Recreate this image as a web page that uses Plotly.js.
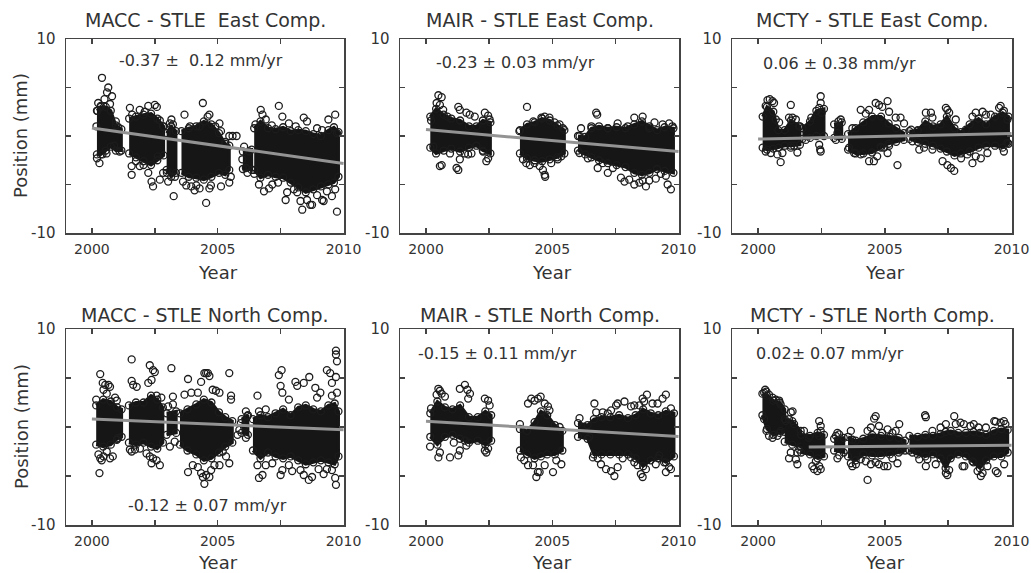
<!DOCTYPE html>
<html><head><meta charset="utf-8">
<script src="https://cdn.plot.ly/plotly-3.0.1.min.js"></script>
<style>html,body{margin:0;padding:0;background:#fff}#chart{width:1031px;height:573px}</style>
</head><body><div id="chart"></div>
<script>
// ---------------- DATA ----------------
const panelTitles = ['MACC - STLE\u00a0 East Comp.', 'MAIR - STLE East Comp.', 'MCTY - STLE East Comp.',
                     'MACC - STLE North Comp.', 'MAIR - STLE North Comp.', 'MCTY - STLE North Comp.'];
const rateLabels = ['-0.37 \u00b1\u00a0 0.12 mm/yr', '-0.23 \u00b1 0.03 mm/yr', '0.06 \u00b1 0.38 mm/yr',
                    '-0.12 \u00b1 0.07 mm/yr', '-0.15 \u00b1 0.11 mm/yr', '0.02\u00b1 0.07 mm/yr'];
const xTickVals = [2000, 2002.5, 2005, 2007.5, 2010];
const xTickText = ['2000', '', '2005', '', '2010'];
const yTickVals = [-10, -5, 0, 5, 10];
const yTickText = ['-10', '', '', '', '10'];

// Trend lines [years], [mm]
const maccEastTrend = [[2000, 2010], [0.82, -2.83]];
const mairEastTrend = [[2000, 2010], [0.66, -1.60]];
const mctyEastTrend = [[2000, 2010], [-0.31, 0.25]];
const maccNorthTrend = [[2000, 2010], [0.82, -0.28]];
const mairNorthTrend = [[2000, 2010], [0.58, -0.96]];
const mctyNorthTrend = [[2002, 2010], [-2.05, -1.85]];

// Dense cores of the point clouds: per cluster [year, upper mm, lower mm]
const maccEastCore = [
 [[2000.20,2.6,-1.9],[2000.35,3.0,-1.9],[2000.55,3.0,-1.5],[2000.75,2.6,-1.1],[2000.95,1.1,-1.5],[2001.17,0.7,-1.5]],
 [[2001.48,1.8,-1.8],[2001.75,2.0,-2.2],[2002.05,2.2,-2.6],[2002.35,2.3,-3.0],[2002.60,1.8,-2.5],[2002.85,1.0,-2.0]],
 [[2002.97,0.3,-3.5],[2003.15,1.0,-4.2],[2003.34,0.5,-3.8]],
 [[2003.56,0.5,-3.8],[2003.85,0.8,-4.2],[2004.15,1.0,-4.3],[2004.45,1.5,-4.5],[2004.75,1.2,-4.2],[2005.05,0.3,-3.8],[2005.30,-0.8,-4.0],[2005.46,-1.0,-3.5]],
 [[2006.00,-1.6,-3.4],[2006.35,-1.4,-3.5]],
 [[2006.45,0.8,-3.5],[2006.70,1.5,-4.3],[2007.00,0.8,-4.0],[2007.30,0.7,-4.2],[2007.60,0.9,-4.3],[2007.90,0.5,-4.8],[2008.20,0.6,-5.3],[2008.50,0.5,-5.8],[2008.80,0.2,-5.5],[2009.10,0.0,-5.2],[2009.40,0.6,-5.0],[2009.62,0.9,-4.8],[2009.80,0.4,-4.2]]
];
const mairEastCore = [
 [[2000.17,2.0,-1.2],[2000.40,2.8,-1.8],[2000.70,2.2,-1.5],[2001.00,1.8,-1.3],[2001.35,1.6,-1.6],[2001.70,1.0,-1.2],[2002.00,1.0,-1.0],[2002.25,1.6,-1.5],[2002.55,1.4,-1.8]],
 [[2003.72,0.6,-1.8],[2004.00,1.2,-2.3],[2004.30,1.4,-2.5],[2004.60,1.8,-2.6],[2004.90,1.6,-2.4],[2005.20,1.1,-2.2],[2005.48,0.6,-1.8]],
 [[2006.02,0.0,-1.5],[2006.30,-0.1,-1.9],[2006.55,0.8,-2.2],[2006.85,1.0,-2.5],[2007.20,0.8,-2.8],[2007.55,0.9,-3.0],[2007.90,0.8,-3.2],[2008.25,1.2,-3.8],[2008.55,1.5,-4.0],[2008.85,1.0,-3.8],[2009.15,0.6,-3.4],[2009.45,0.9,-3.6],[2009.80,0.8,-3.8]]
];
const mctyEastCore = [
 [[2000.18,2.0,-1.2],[2000.35,3.0,-1.4],[2000.60,2.5,-1.3],[2000.80,0.6,-1.2],[2001.05,0.6,-1.0],[2001.30,1.6,-1.0],[2001.65,1.0,-0.9]],
 [[2001.75,0.8,-0.3],[2002.05,1.5,-0.2],[2002.30,2.6,0.0],[2002.60,2.8,0.0]],
 [[2003.00,1.2,-0.2],[2003.30,1.4,-0.3]],
 [[2003.55,0.2,-1.4],[2003.85,0.8,-1.8],[2004.15,1.4,-1.8],[2004.50,2.0,-1.7],[2004.85,2.0,-1.2],[2005.15,1.3,-0.8],[2005.45,0.8,-0.6],[2005.75,0.3,-0.4]],
 [[2005.97,0.5,-0.3],[2006.30,0.6,-0.6],[2006.60,1.5,-0.8],[2006.90,1.0,-1.0],[2007.20,1.2,-1.3],[2007.45,2.0,-1.6],[2007.75,0.8,-2.0],[2008.00,0.4,-1.8],[2008.35,1.2,-1.6],[2008.70,1.8,-1.2],[2009.00,1.2,-1.0],[2009.35,2.0,-1.0],[2009.65,2.4,-1.2],[2009.88,2.0,-0.8]]
];
const maccNorthCore = [
 [[2000.17,2.2,-1.8],[2000.45,2.8,-2.0],[2000.75,2.6,-1.8],[2001.00,2.0,-1.2],[2001.18,1.8,-1.0]],
 [[2001.47,2.2,-1.6],[2001.75,2.5,-1.8],[2002.05,2.5,-1.6],[2002.35,3.2,-2.0],[2002.60,2.8,-2.2],[2002.82,2.0,-1.6]],
 [[2002.97,1.4,-0.8],[2003.35,1.6,-0.6]],
 [[2003.50,1.4,-1.8],[2003.80,1.8,-2.4],[2004.15,2.3,-2.8],[2004.45,2.8,-3.4],[2004.75,2.5,-3.2],[2005.05,1.5,-2.6],[2005.30,1.0,-2.0],[2005.58,0.6,-1.6]],
 [[2005.95,0.8,-0.6],[2006.20,1.2,-0.8]],
 [[2006.40,0.8,-2.4],[2006.70,1.2,-3.2],[2007.00,1.0,-2.6],[2007.30,1.4,-3.0],[2007.60,1.8,-3.2],[2007.90,1.2,-3.0],[2008.20,2.0,-3.4],[2008.50,2.2,-3.8],[2008.80,1.8,-3.6],[2009.10,1.6,-3.4],[2009.40,2.2,-3.6],[2009.65,2.4,-3.8],[2009.80,1.6,-3.0]]
];
const mairNorthCore = [
 [[2000.17,1.4,-1.0],[2000.45,2.6,-1.8],[2000.75,2.0,-1.0],[2001.05,1.8,-0.8],[2001.35,2.2,-1.2],[2001.70,1.0,-1.6],[2002.05,1.0,-1.4],[2002.35,1.6,-1.8],[2002.58,1.2,-1.4]],
 [[2003.72,-0.2,-2.4],[2004.00,-0.4,-2.8],[2004.30,0.5,-3.2],[2004.55,1.6,-3.0],[2004.80,1.2,-2.8],[2005.10,0.2,-2.8],[2005.40,-0.4,-2.4]],
 [[2006.02,0.4,-1.0],[2006.40,0.2,-1.2],[2006.65,0.8,-2.8],[2006.95,1.0,-2.8],[2007.30,1.0,-2.8],[2007.65,1.2,-2.8],[2008.00,0.9,-2.8],[2008.30,1.2,-3.2],[2008.60,1.8,-4.0],[2008.90,1.4,-3.4],[2009.20,1.2,-3.2],[2009.50,1.6,-3.6],[2009.82,1.4,-3.0]]
];
const mctyNorthCore = [
 [[2000.17,3.4,1.2],[2000.35,3.2,-0.2],[2000.60,2.7,-0.8],[2000.85,2.5,-0.6],[2001.05,1.8,-0.5]],
 [[2001.05,0.8,-1.5],[2001.35,0.6,-1.8],[2001.68,-0.4,-2.0]],
 [[2001.70,-0.8,-2.6],[2002.05,-0.9,-2.8],[2002.35,-0.6,-3.2],[2002.60,-0.8,-3.0]],
 [[2003.00,-1.2,-2.4],[2003.38,-1.1,-2.6]],
 [[2003.55,-1.0,-3.0],[2003.85,-1.4,-3.4],[2004.15,-1.2,-2.8],[2004.50,-0.8,-2.9],[2004.85,-0.9,-2.9],[2005.20,-1.0,-2.8],[2005.55,-1.1,-2.6],[2005.80,-1.4,-2.4]],
 [[2005.97,-0.9,-2.4],[2006.30,-1.0,-2.8],[2006.60,-0.8,-3.0],[2006.90,-0.9,-2.8],[2007.20,-0.7,-3.2],[2007.40,-0.5,-4.2],[2007.60,-0.4,-3.2],[2007.90,-0.6,-2.8],[2008.20,-0.6,-3.0],[2008.50,-0.5,-3.6],[2008.75,-0.6,-4.2],[2009.00,-0.8,-3.4],[2009.30,-0.4,-3.0],[2009.60,-0.2,-3.0],[2009.85,-0.3,-2.6]]
];

// Individual (scattered) daily positions [year, mm]
const maccEastPts = [
 [2000.40,6.0],[2000.65,5.0],[2000.60,4.5],[2000.80,4.1],[2000.25,3.4],[2000.50,3.8],[2000.72,3.3],[2000.35,3.1],[2000.20,-2.3],[2000.30,-2.8],[2000.42,-1.9],[2000.88,-1.0],[2001.10,-1.6],[2001.05,0.9],[2000.95,1.5],[2000.22,2.6],[2000.58,-1.8],[2000.18,1.0],
 [2001.51,2.9],[2001.90,2.7],[2002.24,3.1],[2002.50,3.2],[2002.58,3.0],[2002.10,2.5],[2001.60,2.2],[2002.70,1.6],[2002.82,1.0],[2001.58,-3.1],[2001.58,-4.0],[2001.90,-3.1],[2002.24,-3.8],[2002.37,-4.7],[2002.43,-5.2],[2002.62,-2.1],[2002.70,-4.5],[2002.83,-3.8],[2001.75,-2.6],[2002.05,-3.0],
 [2003.16,1.7],[2003.10,1.3],[2003.22,1.2],[2003.03,-4.7],[2003.25,-6.2],[2002.98,-3.8],[2003.30,-4.2],
 [2003.68,2.2],[2004.41,3.4],[2004.28,1.0],[2004.60,2.0],[2004.67,2.2],[2005.07,1.3],[2005.13,0.5],[2005.46,0.0],[2005.59,0.0],[2005.75,0.0],[2003.62,-4.7],[2003.75,-5.1],[2003.95,-5.2],[2004.08,-5.6],[2004.15,-5.1],[2004.28,-5.4],[2004.54,-6.9],[2004.67,-5.4],[2004.73,-5.1],[2005.13,-5.2],[2005.46,-4.8],[2005.52,-4.2],[2003.90,1.0],[2004.90,1.0],[2005.30,-0.6],
 [2006.05,-1.1],[2006.18,-3.8],[2006.25,-1.6],[2006.12,-3.3],[2005.98,-2.4],
 [2006.71,2.7],[2006.78,2.2],[2006.91,1.7],[2007.43,3.1],[2007.57,2.0],[2007.83,1.3],[2008.42,1.9],[2008.55,1.5],[2008.95,0.8],[2009.40,1.7],[2009.67,2.2],[2009.74,0.3],[2006.50,1.2],[2007.15,1.1],[2008.10,1.0],[2009.15,0.6],
 [2006.64,-5.0],[2006.84,-5.7],[2007.04,-5.4],[2007.17,-5.0],[2007.70,-6.6],[2007.76,-5.8],[2008.03,-5.5],[2008.16,-5.8],[2008.29,-6.7],[2008.36,-7.6],[2008.55,-6.6],[2008.68,-7.1],[2008.75,-7.1],[2008.95,-6.1],[2009.15,-6.6],[2009.21,-6.7],[2009.34,-5.7],[2009.54,-6.2],[2009.74,-7.8],[2009.67,-5.5],[2007.40,-4.8],[2006.45,-3.9]
];
const mairEastPts = [
 [2000.49,4.2],[2000.62,4.0],[2000.42,3.4],[2000.55,3.2],[2000.68,2.7],[2001.28,3.0],[2001.34,2.7],[2001.60,2.4],[2001.73,2.2],[2001.93,2.0],[2002.33,2.4],[2002.46,2.1],[2002.52,1.7],[2000.29,-1.1],[2000.62,-3.0],[2000.55,-3.1],[2001.21,-3.3],[2001.28,-3.5],[2001.34,-2.4],[2001.54,-1.8],[2001.67,-1.9],[2001.80,-1.8],[2002.39,-2.6],[2002.46,-2.3],[2002.26,-1.6],[2000.20,1.6],[2000.95,-1.8],[2000.85,2.0],
 [2004.00,3.0],[2004.57,1.9],[2004.70,2.0],[2004.89,1.9],[2005.09,1.4],[2005.29,1.2],[2005.42,0.8],[2003.70,0.5],[2003.84,-2.4],[2003.97,-2.8],[2004.11,-3.0],[2004.30,-2.8],[2004.50,-3.1],[2004.63,-3.5],[2004.70,-4.0],[2004.72,-4.2],[2004.96,-2.8],[2005.22,-2.4],[2005.36,-2.1],[2004.25,1.5],
 [2006.14,0.8],[2006.08,0.0],[2006.74,2.4],[2006.78,2.2],[2007.20,0.8],[2007.59,1.3],[2007.99,1.0],[2008.25,1.9],[2008.58,2.0],[2008.84,0.8],[2009.37,1.2],[2009.63,1.3],[2009.76,1.0],[2006.08,-1.75],[2006.41,-2.3],[2006.80,-3.3],[2007.00,-2.8],[2007.20,-3.8],[2007.40,-3.3],[2007.72,-4.3],[2007.86,-4.7],[2008.05,-4.5],[2008.25,-5.0],[2008.45,-4.8],[2008.58,-4.6],[2008.71,-5.2],[2008.84,-4.6],[2009.10,-4.4],[2009.30,-3.9],[2009.50,-4.1],[2009.70,-5.5],[2009.57,-5.0],[2006.55,1.0],[2009.05,1.4]
];
const mctyEastPts = [
 [2000.37,3.7],[2000.46,3.8],[2000.57,3.6],[2000.63,3.4],[2000.30,3.1],[2000.70,1.7],[2000.83,1.4],[2001.29,3.2],[2001.22,1.9],[2001.36,1.9],[2001.49,1.7],[2001.62,1.0],[2000.30,-1.6],[2000.50,-1.75],[2000.76,-1.9],[2000.89,-2.7],[2000.96,-1.75],[2001.29,-1.2],[2001.42,-1.0],[2001.55,-1.7],
 [2002.47,4.1],[2002.47,3.4],[2002.41,2.9],[2002.51,2.4],[2002.41,-0.9],[2002.45,-1.4],[2002.47,-1.6],[2001.88,-0.4],[2002.10,1.9],
 [2003.26,1.7],[2003.17,1.5],[2003.07,-0.4],[2003.13,0.3],
 [2004.05,2.7],[2004.25,2.3],[2004.38,2.7],[2004.64,3.4],[2004.77,3.2],[2004.90,3.0],[2005.11,3.6],[2005.17,2.5],[2005.43,1.9],[2005.62,1.9],[2005.76,1.3],[2003.72,0.8],[2003.59,-1.2],[2003.79,-1.75],[2004.05,-1.9],[2004.38,-2.6],[2004.57,-2.6],[2004.70,-2.1],[2004.97,-1.2],[2005.11,-1.75],[2005.17,-1.0],[2005.50,-3.0],[2004.83,-1.1],
 [2006.04,0.65],[2006.30,0.5],[2006.62,2.4],[2006.82,2.4],[2006.88,1.9],[2007.41,2.9],[2007.47,2.7],[2007.54,2.4],[2007.80,1.7],[2008.20,0.65],[2008.46,2.0],[2008.59,2.4],[2008.86,2.5],[2008.99,2.2],[2009.18,2.2],[2009.51,2.9],[2009.57,3.1],[2009.70,2.6],[2009.84,1.7],[2006.09,-0.55],[2006.36,-1.4],[2006.55,-1.2],[2006.88,-1.4],[2007.28,-2.6],[2007.47,-3.0],[2007.61,-3.3],[2007.74,-3.6],[2008.01,-2.3],[2008.26,-1.9],[2008.46,-2.8],[2008.59,-2.1],[2008.79,-2.3],[2009.05,-1.75],[2009.70,-1.6],[2009.84,-0.7]
];
const maccNorthPts = [
 [2000.33,5.4],[2000.43,4.5],[2000.53,4.3],[2000.66,4.3],[2000.72,4.1],[2000.46,3.8],[2000.59,3.4],[2000.92,3.0],[2000.99,2.7],[2000.26,-2.8],[2000.33,-3.2],[2000.39,-3.4],[2000.46,-3.0],[2000.59,-2.5],[2000.72,-3.2],[2000.83,-3.0],[2000.30,-4.7],[2000.99,-1.3],[2001.05,-1.1],[2000.17,2.8],
 [2001.58,6.9],[2001.58,4.7],[2001.64,4.3],[2001.78,4.1],[2002.30,6.3],[2002.43,5.8],[2002.50,5.6],[2002.37,4.8],[2002.24,4.5],[2002.57,3.2],[2002.76,3.0],[2001.51,-2.3],[2001.58,-2.5],[2001.71,-2.3],[2001.91,-2.2],[2002.17,-2.7],[2002.30,-3.0],[2002.43,-3.2],[2002.57,-3.4],[2002.70,-3.9],[2002.37,-3.7],
 [2003.16,6.0],[2003.03,2.1],[2003.22,2.3],[2003.10,-2.0],[2003.29,-1.5],[2003.22,3.1],
 [2003.82,4.9],[2004.34,4.6],[2004.47,5.5],[2004.54,5.5],[2004.61,5.5],[2004.67,5.2],[2004.93,3.7],[2005.07,3.5],[2005.46,5.5],[2005.53,3.2],[2005.53,2.8],[2003.68,3.3],[2003.95,3.5],[2004.21,3.5],[2004.80,3.8],[2003.82,-4.6],[2004.01,-3.9],[2004.21,-4.1],[2004.34,-4.7],[2004.41,-5.1],[2004.47,-5.8],[2004.54,-4.9],[2004.67,-5.1],[2004.74,-4.4],[2004.87,-3.9],[2005.07,-3.9],[2005.46,-3.7],[2005.33,-3.0],[2005.20,-2.5],
 [2005.79,-0.8],[2006.12,1.6],[2006.05,0.0],[2006.12,-1.1],[2006.18,1.1],[2005.92,0.4],[2005.86,-0.3],
 [2006.58,3.2],[2006.64,1.6],[2006.91,1.8],[2007.43,5.3],[2007.54,5.8],[2007.50,4.2],[2007.57,3.5],[2007.83,2.8],[2008.09,4.6],[2008.16,4.2],[2008.42,4.5],[2008.64,5.1],[2008.88,4.0],[2009.08,3.5],[2009.34,5.8],[2009.47,5.5],[2009.54,4.5],[2009.70,5.1],[2009.70,7.8],[2009.70,7.4],[2009.74,6.7],[2009.74,3.5],[2009.54,3.2],[2008.95,3.0],
 [2006.58,-3.9],[2006.64,-5.2],[2006.78,-4.9],[2006.91,-3.9],[2007.17,-3.7],[2007.50,-4.9],[2007.57,-4.4],[2007.83,-3.9],[2007.96,-4.5],[2008.29,-4.4],[2008.42,-4.9],[2008.62,-5.4],[2008.75,-5.1],[2009.01,-4.3],[2009.21,-4.8],[2009.34,-4.3],[2009.67,-5.2],[2009.70,-5.9],[2009.54,-4.4]
];
const mairNorthPts = [
 [2000.49,3.9],[2000.55,3.7],[2000.42,3.3],[2000.62,3.4],[2000.75,3.1],[2001.34,3.9],[2001.54,4.3],[2001.64,3.8],[2001.74,3.4],[2001.67,2.9],[2002.33,2.9],[2002.46,2.7],[2002.52,2.2],[2000.16,-2.0],[2000.49,-3.1],[2000.55,-2.6],[2000.95,-3.1],[2001.28,-2.9],[2001.34,-2.4],[2001.54,-1.4],[2001.60,-1.9],[2002.33,-2.4],[2002.39,-2.6],[2002.46,-2.2],[2000.20,1.9],[2001.10,-1.6],
 [2004.17,2.9],[2004.30,2.7],[2004.43,2.9],[2004.54,3.1],[2004.04,2.4],[2004.70,2.4],[2004.83,2.1],[2004.89,1.7],[2005.29,0.0],[2003.76,-3.1],[2003.89,-3.4],[2004.04,-3.9],[2004.24,-3.9],[2004.37,-5.1],[2004.43,-4.6],[2004.50,-4.6],[2004.70,-3.9],[2005.03,-4.6],[2005.16,-3.4],[2005.36,-3.8],[2003.72,0.3],
 [2006.08,0.9],[2006.67,2.4],[2006.74,1.5],[2007.00,1.5],[2007.20,1.4],[2007.33,1.7],[2007.53,2.2],[2007.59,2.4],[2007.86,2.6],[2008.12,2.1],[2008.25,2.2],[2008.45,2.2],[2008.58,2.9],[2008.75,3.3],[2008.64,2.6],[2008.97,2.4],[2009.17,2.4],[2009.37,2.9],[2009.50,3.3],[2009.70,1.9],
 [2006.47,-1.0],[2006.61,-3.1],[2006.80,-3.2],[2006.93,-3.8],[2007.13,-4.3],[2007.33,-4.5],[2007.46,-5.0],[2007.59,-4.1],[2007.79,-3.2],[2008.12,-3.1],[2008.25,-3.6],[2008.38,-3.9],[2008.51,-4.8],[2008.58,-5.1],[2008.71,-4.3],[2009.10,-3.8],[2009.24,-2.9],[2009.43,-3.6],[2009.63,-4.1],[2009.50,-4.6],[2009.70,-4.3]
];
const mctyNorthPts = [
 [2000.28,3.8],[2000.33,3.6],[2000.24,3.5],[2000.43,3.3],[2000.57,3.0],[2000.70,2.8],[2000.83,2.7],[2000.89,2.3],[2000.24,0.8],[2000.33,-0.4],[2000.43,-0.9],[2000.57,-1.1],[2000.76,-0.9],[2000.89,-0.4],
 [2001.29,1.5],[2001.36,1.6],[2001.22,0.8],[2001.09,0.6],[2001.42,0.3],[2001.22,-3.2],[2001.29,-2.6],[2001.55,-2.6],[2001.55,-3.8],[2001.49,-3.3],[2001.62,-2.3],
 [2001.81,-0.4],[2002.01,-1.1],[2002.41,0.6],[2002.47,0.1],[2002.47,-0.4],[2002.41,-0.9],[2002.14,-4.0],[2002.21,-4.3],[2002.34,-4.5],[2002.41,-4.0],[2002.47,-4.3],[2002.28,-3.5],
 [2003.13,-0.6],[2003.20,-0.75],[2003.07,-0.9],[2003.13,-3.2],[2003.20,-2.9],
 [2003.66,-0.4],[2003.72,-1.3],[2004.32,-0.4],[2004.45,-0.05],[2004.58,0.85],[2004.64,1.1],[2004.77,0.1],[2004.90,-0.6],[2005.11,-0.25],[2005.30,-0.6],[2005.57,0.3],[2005.43,-0.4],[2003.66,-3.7],[2003.72,-4.0],[2003.86,-3.8],[2004.05,-3.3],[2004.25,-3.5],[2004.32,-5.4],[2004.45,-3.8],[2004.64,-3.6],[2004.77,-3.8],[2004.97,-4.0],[2005.11,-4.0],[2005.30,-3.2],[2005.50,-3.7],[2005.63,-2.4],
 [2006.59,1.2],[2006.62,1.0],[2006.88,-0.4],[2007.20,-0.05],[2007.41,0.3],[2007.74,1.1],[2007.80,0.3],[2007.99,0.45],[2008.12,0.3],[2008.38,0.1],[2008.51,0.3],[2008.70,-0.05],[2008.99,-0.05],[2009.32,0.6],[2009.38,0.55],[2009.57,0.45],[2009.70,0.6],[2009.76,0.3],
 [2006.09,-2.6],[2006.36,-3.3],[2006.62,-4.0],[2006.68,-3.3],[2007.01,-3.8],[2007.41,-4.7],[2007.47,-4.9],[2007.54,-4.4],[2008.07,-4.0],[2008.14,-4.0],[2008.46,-3.5],[2008.66,-4.5],[2008.79,-5.0],[2008.86,-4.7],[2009.05,-4.0],[2009.38,-4.5],[2009.45,-4.7],[2009.71,-3.8]
];

// Rate label anchor positions in data units [year, mm, anchor]
const rateAnchors = [[2001.0,7.8,'left'],[2000.3,7.6,'left'],[2000.1,7.5,'left'],[2004.6,-8.05,'center'],[1999.6,7.5,'left'],[1999.85,7.5,'left']];

// ---------------- BUILD ----------------
const W = 1031, H = 573;
const colPx = [[66, 344], [400, 679], [732, 1012]];
const rowPx = [[39, 233], [329, 525]];
const cores = [maccEastCore, mairEastCore, mctyEastCore, maccNorthCore, mairNorthCore, mctyNorthCore];
const pts = [maccEastPts, mairEastPts, mctyEastPts, maccNorthPts, mairNorthPts, mctyNorthPts];
const trends = [maccEastTrend, mairEastTrend, mctyEastTrend, maccNorthTrend, mairNorthTrend, mctyNorthTrend];

const FONT = 'DejaVu Sans, Liberation Sans, sans-serif';
const TXT = '#333';
const AX = '#444';
const DOT = '#1c1c1c';
const traces = [];
const layout = {
  width: W, height: H, margin: {l: 0, r: 0, t: 0, b: 0},
  paper_bgcolor: '#fff', plot_bgcolor: '#fff', showlegend: false,
  font: {family: FONT, color: TXT},
  annotations: []
};

for (let i = 0; i < 6; i++) {
  const r = Math.floor(i / 3), c = i % 3;
  const s = i === 0 ? '' : String(i + 1);
  const xa = 'x' + s, ya = 'y' + s;
  cores[i].forEach(cl => {
    const xs = cl.map(p => p[0]).concat(cl.map(p => p[0]).reverse());
    const ys = cl.map(p => p[1]).concat(cl.map(p => p[2]).reverse());
    traces.push({x: xs, y: ys, xaxis: xa, yaxis: ya, mode: 'lines+markers', fill: 'toself',
      fillcolor: '#161616', line: {color: '#161616', width: 3},
      marker: {symbol: 'circle-open', size: 7, color: DOT, line: {width: 1.3}}, hoverinfo: 'skip'});
  });
  traces.push({x: pts[i].map(p => p[0]), y: pts[i].map(p => p[1]), xaxis: xa, yaxis: ya, mode: 'markers',
    marker: {symbol: 'circle-open', size: 7, color: DOT, line: {width: 1.3}}});
  traces.push({x: trends[i][0], y: trends[i][1], xaxis: xa, yaxis: ya, mode: 'lines',
    line: {color: '#939393', width: 3}});

  const axCommon = {showline: true, linecolor: AX, linewidth: 1.5, mirror: 'ticks', ticks: 'inside',
    ticklen: 5, tickwidth: 1.5, tickcolor: AX, showgrid: false, zeroline: false, fixedrange: true};
  layout['xaxis' + s] = Object.assign({}, axCommon, {
    domain: [colPx[c][0] / W, colPx[c][1] / W], range: [1998.97, 2010.02], anchor: ya,
    tickmode: 'array', tickvals: xTickVals, ticktext: xTickText, ticklabelstandoff: 3,
    tickfont: {family: FONT, size: 14, color: TXT}});
  layout['yaxis' + s] = Object.assign({}, axCommon, {
    domain: [1 - rowPx[r][1] / H, 1 - rowPx[r][0] / H], range: [-10, 10], anchor: xa,
    tickmode: 'array', tickvals: yTickVals, ticktext: yTickText, ticklabelstandoff: 6,
    tickfont: {family: FONT, size: 15, color: TXT}});

  // panel title
  layout.annotations.push({text: panelTitles[i], xref: 'paper', yref: 'paper',
    x: (colPx[c][0] + colPx[c][1]) / 2 / W, y: 1 - (r === 0 ? 20 : 315) / H,
    xanchor: 'center', yanchor: 'middle', showarrow: false, font: {family: FONT, size: 19, color: TXT}});
  // x axis title
  layout.annotations.push({text: 'Year', xref: xa, yref: 'paper', x: 2005, y: 1 - (r === 0 ? 272 : 562) / H,
    xanchor: 'center', yanchor: 'middle', showarrow: false, font: {family: FONT, size: 18, color: TXT}});
  // rate label
  layout.annotations.push({text: rateLabels[i], xref: xa, yref: ya, x: rateAnchors[i][0], y: rateAnchors[i][1],
    xanchor: rateAnchors[i][2], yanchor: 'middle', showarrow: false, font: {family: FONT, size: 16, color: TXT}});
  if (c === 0) {
    layout.annotations.push({text: 'Position (mm)', xref: 'paper', yref: 'paper', x: 21 / W,
      y: 1 - (rowPx[r][0] + rowPx[r][1]) / 2 / H, textangle: -90, xanchor: 'center', yanchor: 'middle',
      showarrow: false, font: {family: FONT, size: 18, color: TXT}});
  }
}

Plotly.newPlot('chart', traces, layout, {displayModeBar: false, staticPlot: true});
</script>
</body></html>
